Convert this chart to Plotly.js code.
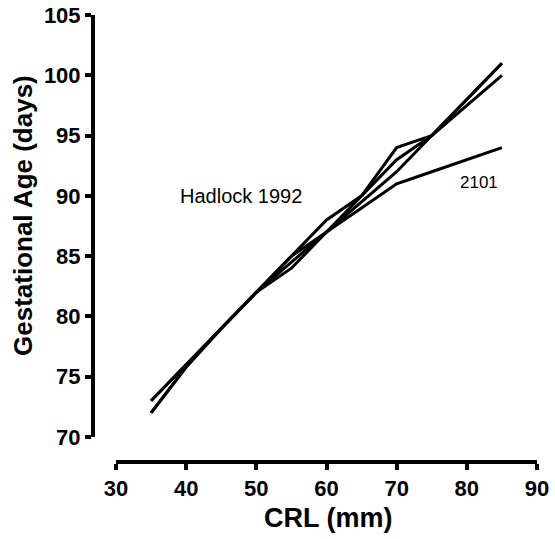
<!DOCTYPE html>
<html>
<head>
<meta charset="utf-8">
<script src="https://cdn.plot.ly/plotly-3.0.1.min.js"></script>
<style>html,body{margin:0;padding:0;background:#fff;}#chart{width:555px;height:539px;}</style>
</head>
<body>
<div id="chart"></div>
<script>
var crl = [35, 40, 45, 50, 55, 60, 65, 70, 75, 80, 85];
var hadlock1992 = [73, 76, 79, 82, 85, 87, 90, 93, 95, 98, 101];
var seriesB = [72, 75.8, 79, 82, 84.5, 87, 89.5, 92, 95, 97.5, 100];
var seriesC = [73, 76, 79, 82, 85, 88, 90, 94, 95, 98, 101];
var series2101 = [72, 75.8, 79, 82, 84, 87, 89, 91, 92, 93, 94];
var xTicks = [30, 40, 50, 60, 70, 80, 90];
var yTicks = [70, 75, 80, 85, 90, 95, 100, 105];
var xTitle = 'CRL (mm)';
var yTitle = 'Gestational Age (days)';

var allSeries = [hadlock1992, seriesB, seriesC, series2101];
var traces = allSeries.map(function (ys) {
  return {x: crl, y: ys, type: 'scatter', mode: 'lines',
    line: {color: '#000', width: 3}, hoverinfo: 'none', showlegend: false};
});

var FAM = 'Liberation Sans, Arial, sans-serif';
var axisFont = {family: FAM, size: 22, color: '#000', weight: 700};
function bold(v) { return '<b>' + v + '</b>'; }
var layout = {
  width: 555, height: 539,
  margin: {l: 93, r: 18, t: 15, b: 77},
  paper_bgcolor: '#fff', plot_bgcolor: '#fff',
  showlegend: false,
  xaxis: {
    range: [30, 90], domain: [23/444, 1], anchor: 'free', position: 0,
    tickvals: xTicks, ticktext: xTicks.map(bold),
    showgrid: false, zeroline: false, showline: true, linecolor: '#000', linewidth: 4,
    ticks: 'outside', ticklen: 6, tickwidth: 4, tickcolor: '#000',
    tickfont: axisFont
  },
  yaxis: {
    range: [70, 105], domain: [25/447, 1], anchor: 'free', position: 0,
    tickvals: yTicks, ticktext: yTicks.map(bold),
    showgrid: false, zeroline: false, showline: true, linecolor: '#000', linewidth: 4,
    ticks: 'outside', ticklen: 6, tickwidth: 4, tickcolor: '#000',
    tickfont: axisFont
  },
  annotations: [
    {x: 38.8, y: 90, xref: 'x', yref: 'y', text: 'Hadlock 1992', showarrow: false, xanchor: 'left', yanchor: 'middle',
     font: {family: FAM, size: 20, color: '#000'}},
    {x: 81.7, y: 91.1, xref: 'x', yref: 'y', text: '2101', showarrow: false, xanchor: 'center', yanchor: 'middle',
     font: {family: FAM, size: 17, color: '#000'}},
    {x: (328 - 93) / 444, y: (462 - 518) / 447, xref: 'paper', yref: 'paper', text: bold(xTitle), showarrow: false,
     xanchor: 'center', yanchor: 'middle', font: {family: FAM, size: 27, color: '#000'}},
    {x: (23 - 93) / 444, y: (462 - 216) / 447, xref: 'paper', yref: 'paper', text: bold(yTitle), showarrow: false,
     textangle: -90, xanchor: 'center', yanchor: 'middle', font: {family: FAM, size: 26, color: '#000'}}
  ]
};
Plotly.newPlot('chart', traces, layout, {staticPlot: true, displayModeBar: false});
</script>
</body>
</html>
